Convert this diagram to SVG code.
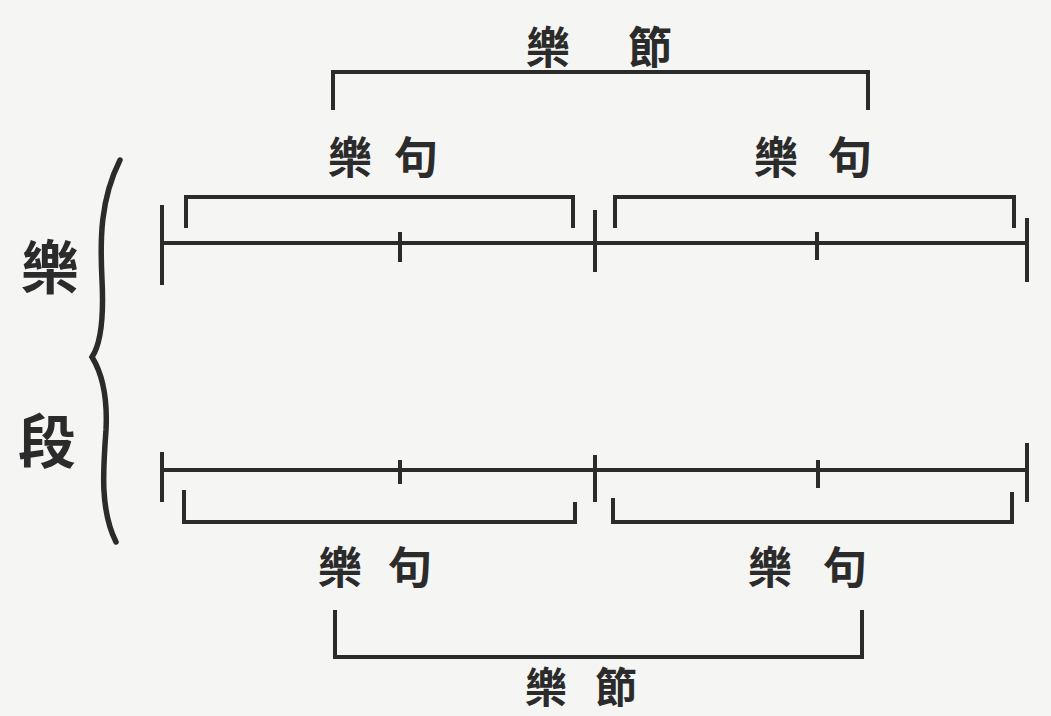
<svg xmlns="http://www.w3.org/2000/svg" width="1051" height="716" viewBox="0 0 1051 716">
<style>
.ln{fill:none;stroke:#2b2b2b;stroke-width:4;stroke-linecap:butt;stroke-linejoin:miter}
.tk{fill:none;stroke:#2b2b2b;stroke-width:4}
.br{fill:none;stroke:#2b2b2b;stroke-width:5.5;stroke-linecap:round}
.lb{font-family:"Noto Sans CJK TC","Noto Sans CJK SC",sans-serif;font-weight:bold;font-size:44px;fill:#2b2b2b;text-anchor:middle;dominant-baseline:central}
.big{font-size:58px}
.sm{font-size:42px}
</style>
<rect width="1051" height="716" fill="#f5f5f3"/>
<g id="connectors">
  <path class="ln" d="M333,110 V72 H868 V110"/>
  <path class="ln" d="M186,228 V197 H573 V228"/>
  <path class="ln" d="M615,228 V197 H1014 V228"/>
  <path class="ln" d="M162,243 H1027"/>
  <path class="tk" d="M162,205 V285 M595,210 V272 M1027,218 V282 M400,232 V262 M817,232 V260"/>
  <path class="ln" d="M162,470 H1027"/>
  <path class="tk" d="M162,452 V502 M595,455 V502 M1027,443 V502 M400,460 V484 M818,460 V488"/>
  <path class="ln" d="M184,490 V522 H575 V502"/>
  <path class="ln" d="M613,498 V522 H1012 V492"/>
  <path class="ln" d="M335,610 V657 H862 V610"/>
  <path class="br" d="M120,160 C100,200 100,240 102,280 C104,320 100,345 92,357 C100,370 108,390 106,430 C103,470 100,510 116,542"/>
</g>
<g id="top-jiezou"><text class="lb" x="548 598 650" y="45">樂 節</text></g>
<g id="top-ju-left"><text class="lb" x="350 383 416" y="155">樂 句</text></g>
<g id="top-ju-right"><text class="lb" x="776 812 850" y="155">樂 句</text></g>
<g id="bot-ju-left"><text class="lb" x="340 375 410" y="565">樂 句</text></g>
<g id="bot-ju-right"><text class="lb" x="770 807 845" y="565">樂 句</text></g>
<g id="bot-jiezou"><text class="lb sm" x="546 581 616" y="684">樂 節</text></g>
<g id="duan"><text class="lb big" x="50" y="264">樂</text><text class="lb big" x="47" y="438">段</text></g>
</svg>
